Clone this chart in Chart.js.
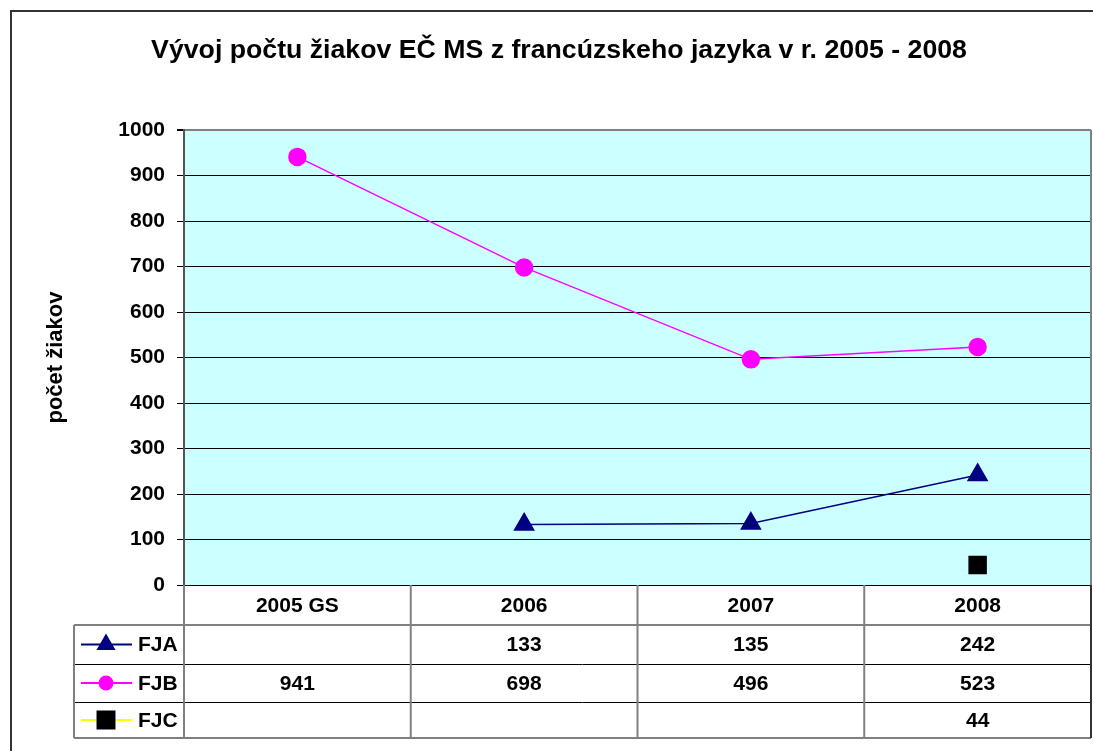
<!DOCTYPE html>
<html>
<head>
<meta charset="utf-8">
<script src="https://cdn.jsdelivr.net/npm/chart.js@4"></script>
<style>
  html, body { margin: 0; background: #fff; overflow: hidden; }
  #wrap { width: 1093px; height: 751px; }
  canvas { display: block; }
</style>
</head>
<body>
<div id="wrap"><canvas id="graf"></canvas></div>
<script>
var roky = ['2005 GS', '2006', '2007', '2008'];
var fja = [null, 133, 135, 242];
var fjb = [941, 698, 496, 523];
var fjc = [null, null, null, 44];
var yTicks = [0, 100, 200, 300, 400, 500, 600, 700, 800, 900, 1000];

var pismo = "Arial, 'Liberation Sans', sans-serif";

var serie = [
  { label: 'FJA', data: fja, line: '#000080', fill: '#000080', style: 'triangle', r: 11, rl: 9 },
  { label: 'FJB', data: fjb, line: '#FF00FF', fill: '#FF00FF', style: 'circle', r: 8.5, rl: 6.5 },
  { label: 'FJC', data: fjc, line: '#FFFF00', fill: '#000000', style: 'rect', r: 12, rl: 12 }
];

// pozadie grafu, ramik a tabulka s udajmi
var tabulka = {
  id: 'tabulka',
  beforeDraw: function (chart) {
    var c = chart.ctx, a = chart.chartArea;
    c.save();
    c.fillStyle = '#CCFFFF';
    c.fillRect(a.left, a.top, a.right - a.left, a.bottom - a.top);
    c.restore();
  },
  afterDraw: function (chart) {
    var c = chart.ctx, a = chart.chartArea, x = chart.scales.x;
    var colW = (a.right - a.left) / roky.length;
    var hlavicka = a.bottom + 40;
    var riadky = [hlavicka, hlavicka + 39, hlavicka + 77, hlavicka + 113];
    var legL = 74;
    c.save();
    // vonkajsi ramik
    c.strokeStyle = '#333';
    c.lineWidth = 2;
    c.strokeRect(11, 11, 1200, 1200);

    // pravy okraj grafu
    c.strokeStyle = '#808080';
    c.lineWidth = 2;
    c.beginPath();
    c.moveTo(a.right, a.top);
    c.lineTo(a.right, a.bottom);
    c.stroke();

    // vodorovne ciary tabulky
    c.strokeStyle = '#808080';
    c.lineWidth = 2;
    c.beginPath();
    c.moveTo(legL, riadky[0]); c.lineTo(a.right, riadky[0]);
    c.stroke();
    c.strokeStyle = '#000';
    c.lineWidth = 1;
    for (var i = 1; i < 3; i++) {
      c.beginPath();
      c.moveTo(legL, riadky[i] + 0.5); c.lineTo(a.right, riadky[i] + 0.5);
      c.stroke();
    }
    c.strokeStyle = '#555';
    c.lineWidth = 1.5;
    c.beginPath();
    c.moveTo(legL, riadky[3]); c.lineTo(a.right, riadky[3]);
    c.stroke();

    // zvisle ciary
    c.strokeStyle = '#808080';
    c.lineWidth = 2;
    for (var k = 0; k <= roky.length; k++) {
      var xx = x.getPixelForValue(k) - colW / 2;
      if (k === roky.length) xx = a.right;
      c.beginPath();
      c.moveTo(xx, a.bottom);
      c.lineTo(xx, riadky[3]);
      c.stroke();
    }
    c.beginPath();
    c.moveTo(legL, riadky[0]); c.lineTo(legL, riadky[3]);
    c.stroke();
    c.strokeStyle = '#333';
    c.beginPath();
    c.moveTo(a.right, a.bottom); c.lineTo(a.right, riadky[3]);
    c.stroke();

    // legenda a hodnoty
    c.font = 'bold 21px ' + pismo;
    c.textBaseline = 'middle';
    serie.forEach(function (s, r) {
      var yc = (riadky[r] + riadky[r + 1]) / 2;
      c.strokeStyle = s.line;
      c.lineWidth = 2;
      c.beginPath();
      c.moveTo(81, yc); c.lineTo(132, yc);
      c.stroke();
      c.fillStyle = s.fill;
      c.strokeStyle = s.fill;
      Chart.helpers.drawPoint(c, { pointStyle: s.style, radius: s.rl, rotation: 0, borderWidth: 1 }, 106, yc);
      c.fillStyle = '#000';
      c.textAlign = 'left';
      c.fillText(s.label, 138, yc + 1);
      c.textAlign = 'center';
      s.data.forEach(function (v, j) {
        if (v === null) return;
        c.fillText(String(v), x.getPixelForValue(j), yc + 1);
      });
    });
    c.restore();
  }
};

var datasets = serie.map(function (s) {
  return {
    label: s.label,
    data: s.data,
    borderColor: s.line,
    borderWidth: 1.5,
    backgroundColor: s.fill,
    pointBackgroundColor: s.fill,
    pointBorderColor: s.fill,
    pointStyle: s.style,
    pointRadius: s.r,
    pointHoverRadius: s.r,
    tension: 0,
    spanGaps: false
  };
});

var ctx = document.getElementById('graf').getContext('2d');
var graf = new Chart(ctx, {
  type: 'line',
  data: { labels: roky, datasets: datasets },
  options: {
    responsive: true,
    maintainAspectRatio: false,
    animation: false,
    layout: { autoPadding: false, padding: { left: 27, right: 2, top: 0, bottom: 126 } },
    plugins: {
      legend: { display: false },
      tooltip: { enabled: false },
      title: {
        display: true,
        text: 'Vývoj počtu žiakov EČ MS z francúzskeho jazyka v r. 2005 - 2008',
        color: '#000',
        font: { family: pismo, size: 26.7, weight: 'bold' },
        padding: { top: 35, bottom: 63 }
      }
    },
    scales: {
      x: {
        type: 'category',
        offset: true,
        grid: { display: false, drawTicks: false },
        border: { display: false },
        ticks: { color: '#000', font: { family: pismo, size: 21, weight: 'bold' }, padding: 9, maxRotation: 0 },
        afterFit: function (s) { s.height = 40; s.paddingLeft = 0; s.paddingRight = 0; }
      },
      y: {
        min: 0,
        max: 1000,
        afterBuildTicks: function (s) { s.ticks = yTicks.map(function (v) { return { value: v }; }); },
        grid: {
          color: function (c) { return c.tick && c.tick.value === 1000 ? '#808080' : '#000'; },
          lineWidth: function (c) { return c.tick && c.tick.value === 1000 ? 2 : 1; },
          tickLength: 7,
          tickColor: '#000'
        },
        border: { display: true, color: '#555', width: 2 },
        ticks: {
          color: '#000',
          font: { family: pismo, size: 21, weight: 'bold' },
          padding: 12,
          callback: function (v) { return String(v); }
        },
        title: {
          display: true,
          text: 'počet žiakov',
          color: '#000',
          font: { family: pismo, size: 22, weight: 'bold' },
          padding: { top: 16, bottom: 0 }
        },
        afterFit: function (s) { s.width = 157; }
      }
    }
  },
  plugins: [tabulka]
});
</script>
</body>
</html>
